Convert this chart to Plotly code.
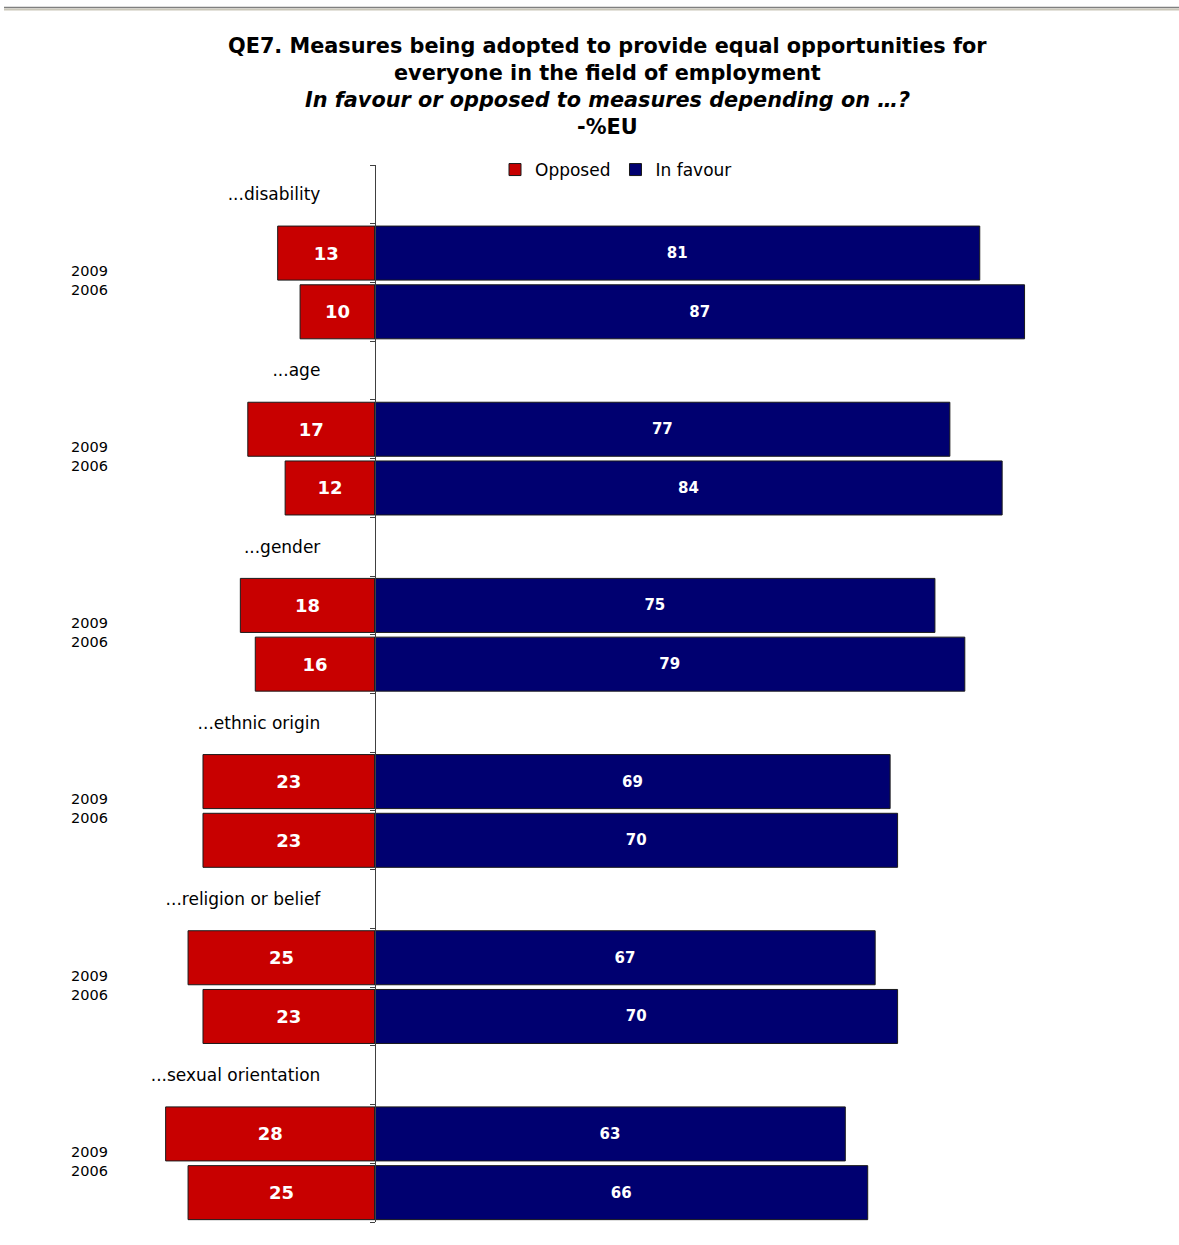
import plotly.graph_objects as go

# ---- data ----
categories = ["...disability", "...age", "...gender", "...ethnic origin",
              "...religion or belief", "...sexual orientation"]
years = ["2009", "2006"]
opposed_2009 = [13, 17, 18, 23, 25, 28]
opposed_2006 = [10, 12, 16, 23, 23, 25]
favour_2009 = [81, 77, 75, 69, 67, 63]
favour_2006 = [87, 84, 79, 70, 70, 66]
title_lines = [
    "<b>QE7. Measures being adopted to provide equal opportunities for</b>",
    "<b>everyone in the field of employment</b>",
    "<b><i>In favour or opposed to measures depending on \u2026?</i></b>",
    "<b>-%EU</b>",
]

# ---- layout geometry (pixels) ----
W, H = 1179, 1245
ML, MR, MT, MB = 20, 20, 165, 23
PW, PH = W - ML - MR, H - MT - MB
XMIN, XMAX = -47.5, 105


def px_x(x):
    return (x - ML) / PW


def px_y(y):
    return (H - MB - y) / PH


# slot positions: header, 2009, 2006 per group
n = len(categories)
header_pos = [3 * g for g in range(n)]
pos_2009 = [3 * g + 1 for g in range(n)]
pos_2006 = [3 * g + 2 for g in range(n)]

ys, opp, fav = [], [], []
for g in range(n):
    ys += [pos_2009[g], pos_2006[g]]
    opp += [opposed_2009[g], opposed_2006[g]]
    fav += [favour_2009[g], favour_2006[g]]

fig = go.Figure()
fig.add_trace(go.Bar(
    name="Opposed", orientation="h", y=ys, x=[-v for v in opp],
    text=[str(v) for v in opp], textposition="inside", insidetextanchor="middle",
    textfont=dict(family="DejaVu Sans", size=18, color="white", weight="bold"),
    marker=dict(color="#c80000", line=dict(color="#1a1a1a", width=1)),
    width=0.92, hoverinfo="skip",
))
fig.add_trace(go.Bar(
    name="In favour", orientation="h", y=ys, x=fav,
    text=[str(v) for v in fav], textposition="inside", insidetextanchor="middle",
    textfont=dict(family="DejaVu Sans", size=15, color="white", weight="bold"),
    marker=dict(color="#000070", line=dict(color="#1a1a1a", width=1)),
    width=0.92, hoverinfo="skip",
))

annotations = []
for i, t in enumerate(title_lines):
    annotations.append(dict(
        text=t, xref="paper", yref="paper", x=px_x(607), y=px_y(46 + 27 * i),
        xanchor="center", yanchor="middle", showarrow=False,
        font=dict(family="DejaVu Sans", size=20.8, color="black"),
    ))
for g in range(n):
    annotations.append(dict(
        text="<br>".join(years), xref="paper", yref="y", x=px_x(89),
        y=pos_2009[g] + 0.5, yshift=2, xanchor="center", yanchor="middle",
        showarrow=False, font=dict(family="DejaVu Sans", size=14.5, color="black"),
    ))

zero_pos = (0 - XMIN) / (XMAX - XMIN)

fig.update_layout(
    width=W, height=H,
    margin=dict(l=ML, r=MR, t=MT, b=MB, pad=0),
    paper_bgcolor="white", plot_bgcolor="white",
    barmode="relative", showlegend=True,
    legend=dict(orientation="h", x=px_x(616), y=px_y(170), xanchor="center",
                yanchor="middle", font=dict(family="DejaVu Sans", size=17, color="black"),
                bgcolor="rgba(0,0,0,0)", traceorder="normal"),
    xaxis=dict(range=[XMIN, XMAX], visible=False, fixedrange=True),
    yaxis=dict(range=[3 * n - 0.5, -0.5], anchor="free", position=zero_pos,
               showline=True, linecolor="#404040", linewidth=1,
               tickmode="array", tickvals=header_pos, ticktext=categories,
               ticks="", ticklabelstandoff=51,
               tickfont=dict(family="DejaVu Sans", size=17, color="black"),
               minor=dict(tickmode="array", tickvals=[i - 0.5 for i in range(3 * n + 1)],
                          ticks="outside", ticklen=5, tickcolor="#404040", showgrid=False),
               showgrid=False, zeroline=False, fixedrange=True),
    annotations=annotations,
    shapes=[
        dict(type="line", xref="paper", yref="paper", x0=px_x(4), x1=px_x(1179),
             y0=px_y(7.5), y1=px_y(7.5), line=dict(color="#7f7f7f", width=1.5)),
        dict(type="line", xref="paper", yref="paper", x0=px_x(4), x1=px_x(1179),
             y0=px_y(9.5), y1=px_y(9.5), line=dict(color="#c9c6b8", width=2)),
    ],
)

fig.write_html("out.html", config={"displayModeBar": False},
               post_script="document.body.style.margin='0';document.body.style.overflow='hidden';")
